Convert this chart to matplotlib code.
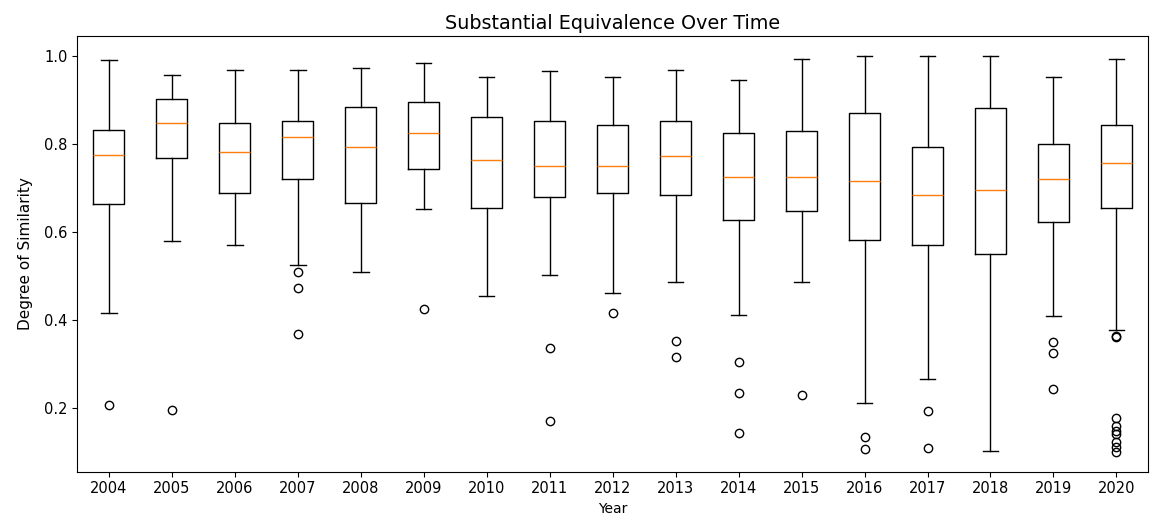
import matplotlib
matplotlib.use("Agg")
import matplotlib.pyplot as plt

years = [str(y) for y in range(2004, 2021)]
whislo = [0.415, 0.579, 0.570, 0.524, 0.508, 0.651, 0.455, 0.502, 0.461,
          0.487, 0.411, 0.487, 0.211, 0.265, 0.102, 0.408, 0.378]
q1 = [0.663, 0.767, 0.687, 0.720, 0.665, 0.742, 0.655, 0.680, 0.687,
      0.684, 0.626, 0.647, 0.582, 0.570, 0.549, 0.622, 0.655]
med = [0.774, 0.847, 0.782, 0.815, 0.793, 0.825, 0.764, 0.749, 0.749,
       0.771, 0.724, 0.724, 0.716, 0.684, 0.695, 0.720, 0.756]
q3 = [0.830, 0.902, 0.846, 0.851, 0.883, 0.895, 0.861, 0.851, 0.843,
      0.851, 0.825, 0.829, 0.869, 0.793, 0.880, 0.800, 0.843]
whishi = [0.989, 0.956, 0.967, 0.967, 0.971, 0.983, 0.952, 0.964, 0.952,
          0.967, 0.945, 0.992, 1.000, 1.000, 1.000, 0.952, 0.992]
fliers = [
    [0.207],
    [0.196],
    [],
    [0.508, 0.472, 0.367],
    [],
    [0.425],
    [],
    [0.335, 0.171],
    [0.415],
    [0.352, 0.316],
    [0.305, 0.233, 0.142],
    [0.229],
    [0.135, 0.106],
    [0.193, 0.109],
    [],
    [0.349, 0.324, 0.244],
    [0.363, 0.360, 0.177, 0.158, 0.148, 0.140, 0.122, 0.111, 0.100],
]

stats = []
for i, yr in enumerate(years):
    stats.append({"label": yr, "whislo": whislo[i], "q1": q1[i], "med": med[i],
                  "q3": q3[i], "whishi": whishi[i], "fliers": fliers[i]})

fig, ax = plt.subplots(figsize=(11.52, 5.19), dpi=100)
fig.subplots_adjust(left=0.067, right=0.9965, top=0.931, bottom=0.091)
ax.bxp(stats, showfliers=True)
ax.tick_params(labelsize=10.5)
ax.set_title("Substantial Equivalence Over Time", fontsize=13.8, pad=5)
ax.set_xlabel("Year", fontsize=10, labelpad=4)
ax.set_ylabel("Degree of Similarity", fontsize=11, labelpad=8)
fig.savefig("out.png")
